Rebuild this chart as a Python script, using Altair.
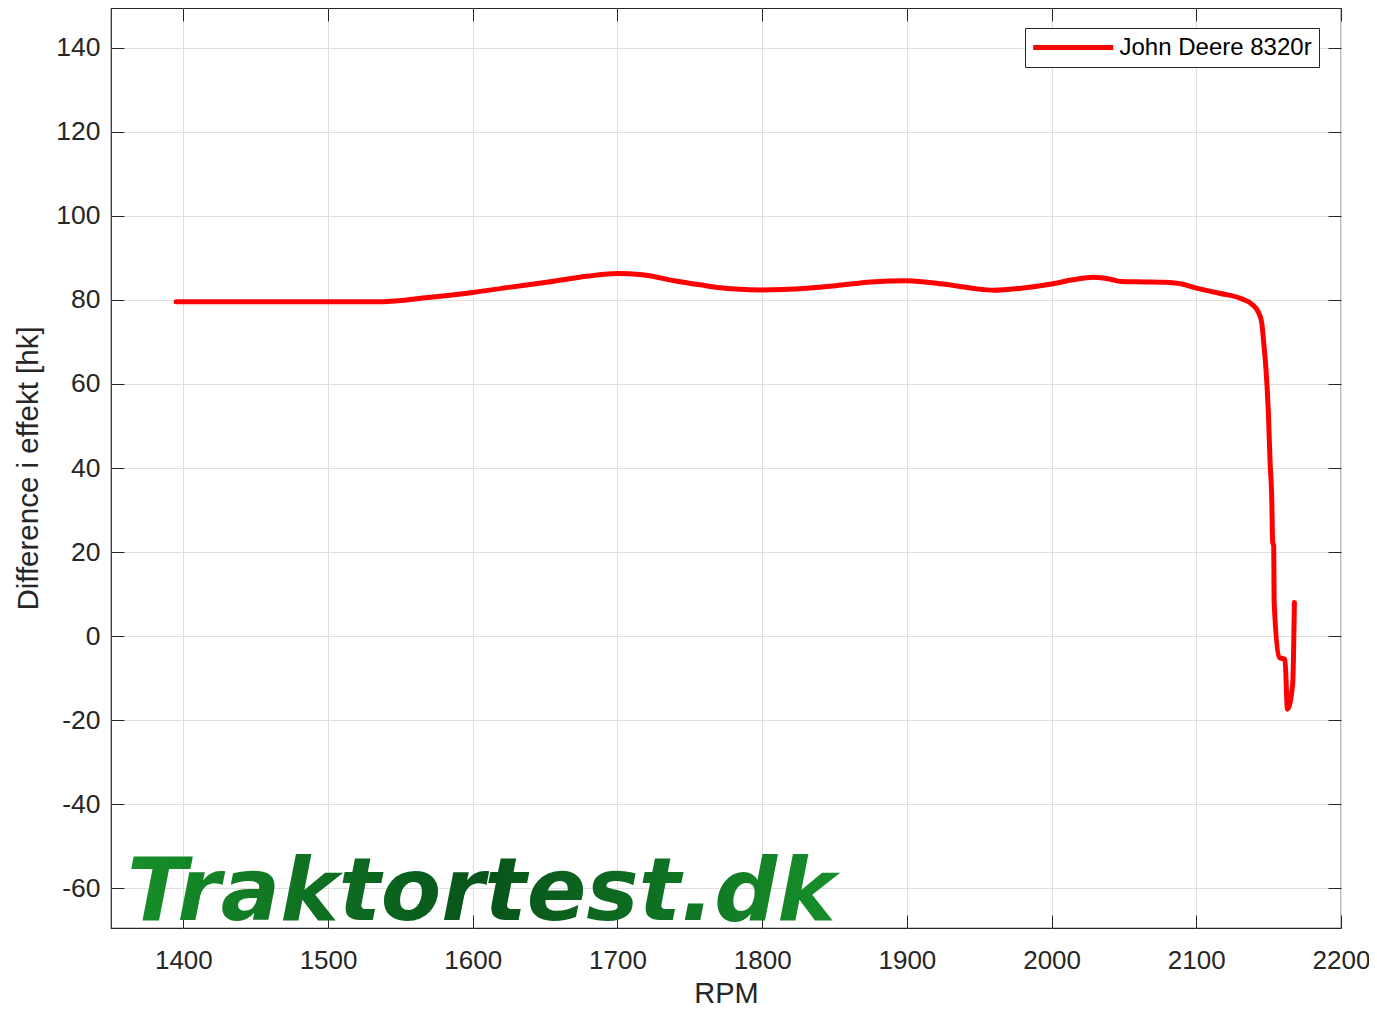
import altair as alt
import pandas as pd

# RPM and power-difference values
rpm = [1395, 1537, 1569, 1600, 1625, 1651, 1680, 1700, 1717, 1742, 1757, 1771, 1782,
       1800, 1831, 1851, 1875, 1900, 1925, 1945, 1960, 1979, 2000, 2015, 2029, 2040,
       2048, 2065, 2078, 2090, 2100, 2116, 2132, 2138, 2143, 2145.2, 2146.8, 2148,
       2149.8, 2151, 2152.1, 2152.8, 2153.5, 2153.8, 2157.4, 2161.3, 2163, 2166.6, 2167.8]
diff = [79.6, 79.6, 80.6, 81.8, 83.0, 84.2, 85.7, 86.3, 86.0, 84.4, 83.6, 82.9, 82.6,
        82.4, 82.8, 83.4, 84.3, 84.6, 83.8, 82.8, 82.3, 82.8, 83.8, 84.8, 85.4, 85.0,
        84.4, 84.3, 84.2, 83.8, 82.8, 81.6, 80.2, 79.1, 77.0, 74.6, 69.0, 64.3,
        53.2, 41.3, 33.4, 22.3, 21.5, 8.0, -5.1, -5.6, -17.4, -11.4, 8.0]
series_name = "John Deere 8320r"
x_ticks = [1400, 1500, 1600, 1700, 1800, 1900, 2000, 2100, 2200]
y_ticks = [-60, -40, -20, 0, 20, 40, 60, 80, 100, 120, 140]
watermark = "Traktortest.dk"

df = pd.DataFrame({"rpm": rpm, "diff": diff, "idx": list(range(len(rpm))),
                   "series": [series_name] * len(rpm)})

INK = "#262626"
GRID = "#dfdfdf"
TS = 13
xs = alt.Scale(domain=[1350, 2200], nice=False, zero=False)
ys = alt.Scale(domain=[-69.5, 149.5], nice=False, zero=False)

line = alt.Chart(df).mark_line(strokeWidth=5, strokeJoin="round", strokeCap="round",
                               interpolate="monotone").encode(
    x=alt.X("rpm:Q", scale=xs, axis=alt.Axis(
        orient="bottom", values=x_ticks, grid=True, gridColor=GRID, domain=False,
        tickSize=TS, offset=-TS, tickColor=INK, labelFontSize=26, labelColor=INK,
        labelFont="Liberation Sans", labelPadding=19, title="RPM", titleFontSize=29,
        titleFont="Liberation Sans", titleFontWeight="normal", titleColor=INK,
        titlePadding=6, labelFlush=False, labelExpr="'' + datum.value")),
    y=alt.Y("diff:Q", scale=ys, axis=alt.Axis(
        orient="left", values=y_ticks, grid=True, gridColor=GRID, domain=False,
        tickSize=TS, offset=-TS, tickColor=INK, labelFontSize=26.5, labelColor=INK,
        labelFont="Liberation Sans", labelPadding=11, title="Difference i effekt [hk]",
        titleFontSize=29.5, titleFont="Liberation Sans", titleFontWeight="normal",
        titleColor=INK, titlePadding=12, labelFlush=False, labelExpr="'' + datum.value")),
    order="idx:Q",
    color=alt.Color("series:N", scale=alt.Scale(range=["#ff0000"]), legend=alt.Legend(
        title=None, orient="none", legendX=914, legendY=20, symbolType="M-4,0H4",
        symbolSize=400, symbolStrokeWidth=4.8, symbolOffset=28.75, labelFontSize=24,
        labelFont="Liberation Sans", labelColor="#000000", fillColor="white",
        strokeColor=INK, padding=7, labelOffset=33.75, labelLimit=0, cornerRadius=0)),
)

ghost = alt.Chart(df).mark_line(opacity=0).encode(
    x=alt.X("rpm:Q", scale=xs, axis=alt.Axis(
        orient="top", values=x_ticks, grid=False, domain=False, labels=False,
        tickSize=TS, offset=-TS, tickColor=INK, title=None)),
    y=alt.Y("diff:Q", scale=ys, axis=alt.Axis(
        orient="right", values=y_ticks, grid=False, domain=False, labels=False,
        tickSize=TS, offset=-TS, tickColor=INK, title=None)),
    order="idx:Q",
)

wm = alt.Chart(pd.DataFrame({"t": [watermark]})).mark_text(
    font="DejaVu Sans", fontWeight="bold", fontStyle="italic", fontSize=88,
    align="left", baseline="alphabetic",
    color=alt.Gradient(gradient="linear", x1=0, x2=1, y1=0, y2=0, stops=[
        alt.GradientStop(color="#17902a", offset=0),
        alt.GradientStop(color="#07531a", offset=0.5),
        alt.GradientStop(color="#17902a", offset=1)]),
).encode(x=alt.value(16), y=alt.value(912), text="t:N")

chart = alt.layer(line, ghost, wm).resolve_axis(x="independent", y="independent").properties(
    width=1230, height=920,
    autosize=alt.AutoSizeParams(type="none"),
    padding={"left": 103, "top": 0, "right": 28, "bottom": 80},
    background="white",
).configure_view(stroke=INK, strokeWidth=1.2)

chart.save("out.html", embed_options={"renderer": "svg", "actions": False})
